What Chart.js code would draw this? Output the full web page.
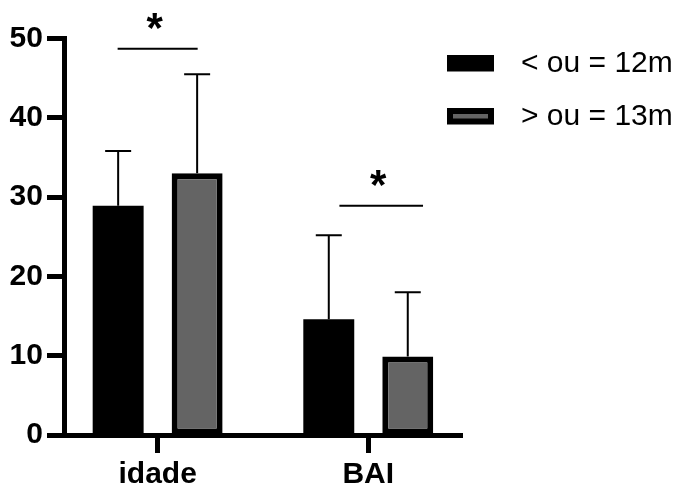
<!DOCTYPE html>
<html>
<head>
<meta charset="utf-8">
<script src="https://cdn.jsdelivr.net/npm/chart.js@4"></script>
<style>
  html, body { margin: 0; padding: 0; background: #fff; }
</style>
</head>
<body>
<canvas id="barChart" width="677" height="484"></canvas>
<script>
const categories = ['idade', 'BAI'];
const groupLabels = ['< ou = 12m', '> ou = 13m'];
const meanLow = [28.9, 14.6];
const sdLow = [6.9, 10.6];
const meanHigh = [33.0, 9.9];
const sdHigh = [12.5, 8.1];
const yMin = 0;
const yMax = 50;
const yStep = 10;
// significance bars, x in category units (idade = 1, BAI = 2), level in y units
const sigStart = [0.81, 1.863];
const sigEnd = [1.19, 2.26];
const sigLevel = [48.7, 28.9];
const sigMark = ['*', '*'];

const FONT = '"Liberation Sans", Arial, sans-serif';
Chart.defaults.font.family = FONT;
Chart.defaults.color = '#000';

function toPoints(values) {
    return values.map((v, i) => ({ x: i + 1, y: v }));
}

const errorBars = {
    id: 'errorBars',
    afterDatasetsDraw(chart) {
        const ctx = chart.ctx;
        const yScale = chart.scales.y;
        ctx.save();
        ctx.strokeStyle = '#000';
        ctx.lineWidth = 2;
        chart.data.datasets.forEach((ds, d) => {
            chart.getDatasetMeta(d).data.forEach((bar, i) => {
                const top = yScale.getPixelForValue(ds.data[i].y);
                const tip = yScale.getPixelForValue(ds.data[i].y + ds.sd[i]);
                ctx.beginPath();
                ctx.moveTo(bar.x, top);
                ctx.lineTo(bar.x, tip);
                ctx.moveTo(bar.x - 13, tip);
                ctx.lineTo(bar.x + 13, tip);
                ctx.stroke();
            });
        });
        ctx.restore();
    }
};

const sigBars = {
    id: 'sigBars',
    afterDatasetsDraw(chart) {
        const ctx = chart.ctx;
        const xScale = chart.scales.x;
        const yScale = chart.scales.y;
        ctx.save();
        ctx.strokeStyle = '#000';
        ctx.fillStyle = '#000';
        ctx.lineWidth = 2;
        ctx.font = 'bold 42px ' + FONT;
        ctx.textAlign = 'center';
        ctx.textBaseline = 'alphabetic';
        sigLevel.forEach((level, i) => {
            const x0 = xScale.getPixelForValue(sigStart[i]);
            const x1 = xScale.getPixelForValue(sigEnd[i]);
            const y = yScale.getPixelForValue(level);
            ctx.beginPath();
            ctx.moveTo(x0, y);
            ctx.lineTo(x1, y);
            ctx.stroke();
            ctx.fillText(sigMark[i], (x0 + x1) / 2 - 3, y - 7);
        });
        ctx.restore();
    }
};

// legend sits over the right end of the plot, as in the original figure
const legendNudge = {
    id: 'legendNudge',
    afterLayout(chart) {
        const lg = chart.legend;
        lg.left -= 35;
        lg.top -= 13.25; lg.bottom -= 13.25;
    }
};

new Chart(document.getElementById('barChart'), {
    type: 'bar',
    data: {
        datasets: [
            {
                label: groupLabels[0],
                data: toPoints(meanLow),
                sd: sdLow,
                backgroundColor: '#000',
                borderColor: '#000',
                borderWidth: 0
            },
            {
                label: groupLabels[1],
                data: toPoints(meanHigh),
                sd: sdHigh,
                backgroundColor: '#646464',
                borderColor: '#000',
                borderWidth: 6
            }
        ]
    },
    options: {
        responsive: false,
        animation: false,
        datasets: {
            bar: {
                categoryPercentage: 0.75,
                barPercentage: 0.645,
                borderSkipped: false
            }
        },
        layout: { padding: { left: 5.6, top: 38.5, right: 0, bottom: -12 } },
        plugins: {
            tooltip: { enabled: false },
            legend: {
                position: 'right',
                align: 'start',
                maxWidth: 215,
                labels: {
                    boxWidth: 41,
                    boxHeight: 10.5,
                    padding: 23,
                    font: { size: 30 },
                    generateLabels(chart) {
                        return Chart.defaults.plugins.legend.labels.generateLabels(chart)
                            .map(item => ({ ...item, text: '\u2002' + item.text, lineWidth: 6 }));
                    }
                }
            }
        },
        scales: {
            x: {
                type: 'linear',
                min: 0.56,
                max: 2.445,
                offset: false,
                border: { display: true, width: 5, color: '#000' },
                grid: {
                    offset: false,
                    drawOnChartArea: false,
                    drawTicks: true,
                    tickLength: 18,
                    tickWidth: 5,
                    tickColor: '#000'
                },
                ticks: {
                    stepSize: 1,
                    includeBounds: false,
                    padding: 11,
                    font: { size: 30, weight: 'bold', lineHeight: 0.7 },
                    callback: value => categories[value - 1] || ''
                }
            },
            y: {
                min: yMin,
                max: yMax,
                border: { display: true, width: 5, color: '#000' },
                grid: {
                    drawOnChartArea: false,
                    drawTicks: true,
                    tickLength: 18,
                    tickWidth: 5,
                    tickColor: '#000'
                },
                ticks: {
                    stepSize: yStep,
                    padding: 4,
                    font: { size: 30, weight: 'bold' }
                }
            }
        }
    },
    plugins: [errorBars, sigBars, legendNudge]
});
</script>
</body>
</html>
